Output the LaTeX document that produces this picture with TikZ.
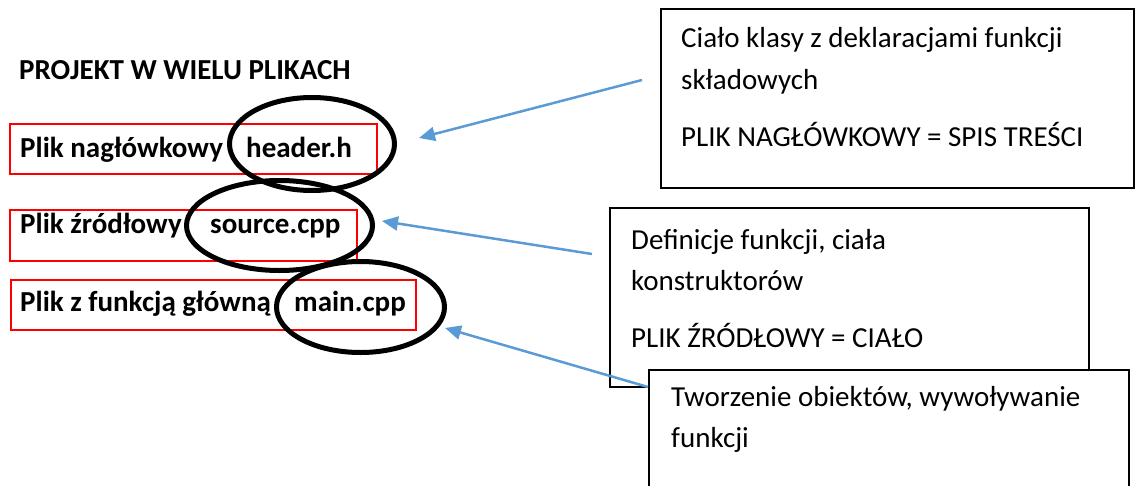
\documentclass[tikz,border=0pt]{standalone}
\usepackage{fontspec}
\setmainfont{Carlito}
\usetikzlibrary{arrows.meta,shapes.geometric}
\definecolor{arrowblue}{RGB}{91,155,213}
\tikzset{
  lbl/.style={inner sep=0pt, anchor=base west, font=\fontsize{29}{35}\selectfont\bfseries},
  rtxt/.style={inner sep=0pt, anchor=base west, font=\fontsize{29}{35}\selectfont},
  redbox/.style={draw=red, line width=2pt, rectangle, anchor=north west, inner sep=0pt},
  notebox/.style={draw=black, line width=2pt, fill=white, rectangle, anchor=north west, inner sep=0pt},
  ring/.style={draw=black, line width=5pt, ellipse, inner sep=0pt},
  pointer/.style={draw=arrowblue, line width=2.5pt, -{Triangle[length=16pt,width=14pt]}}
}
\begin{document}
\begin{tikzpicture}[x=1pt,y=-1pt]
\useasboundingbox (0,0) rectangle (1136,485);
\clip (0,0) rectangle (1136,485);
% title
\node[lbl] (title) at (19,79) {PROJEKT W WIELU PLIKACH};
% red boxes
\node[redbox, minimum width=367pt, minimum height=50pt] (r1) at (9,123) {};
\node[redbox, minimum width=347pt, minimum height=51pt] (r2) at (9,209) {};
\node[redbox, minimum width=405pt, minimum height=50pt] (r3) at (10,279) {};
% left labels
\node[lbl] (t1) at (20,157) {Plik nagłówkowy};
\node[lbl] (f1) at (246,157) {header.h};
\node[lbl] (t2) at (20,233) {Plik źródłowy};
\node[lbl] (f2) at (210,233) {source.cpp};
\node[lbl] (t3) at (20,311) {Plik z funkcją główną};
\node[lbl] (f3) at (294,311) {main.cpp};
% ellipses
\node[ring, minimum width=165pt, minimum height=93pt] (e1) at (312,144) {};
\node[ring, minimum width=186pt, minimum height=90pt] (e2) at (279.5,225.5) {};
\node[ring, minimum width=168pt, minimum height=91pt] (e3) at (360.5,307) {};
% note boxes
\node[notebox, minimum width=473pt, minimum height=179pt] (bA) at (660,8) {};
\node[rtxt] (a1) at (681,47) {Ciało klasy z deklaracjami funkcji};
\node[rtxt] (a2) at (681,89) {składowych};
\node[rtxt] (a3) at (681,146) {PLIK NAGŁÓWKOWY = SPIS TREŚCI};
\node[notebox, minimum width=479pt, minimum height=178.5pt] (bB) at (609,207) {};
\node[rtxt] (b1) at (631,249) {Definicje funkcji, ciała};
\node[rtxt] (b2) at (631,290) {konstruktorów};
\node[rtxt] (b3) at (631,347) {PLIK ŹRÓDŁOWY = CIAŁO};
\node[notebox, minimum width=480pt, minimum height=140pt] (bC) at (648,369) {};
\node[rtxt] (c1) at (671,406) {Tworzenie obiektów, wywoływanie};
\node[rtxt] (c2) at (671,447) {funkcji};
% arrows
\coordinate (s1) at (642,80);
\coordinate (p1) at (419,138);
\coordinate (s2) at (592,254);
\coordinate (p2) at (382,221);
\coordinate (s3) at (648,387);
\coordinate (p3) at (445,328);
\draw[pointer] (s1) -- (p1);
\draw[pointer] (s2) -- (p2);
\draw[pointer] (s3) -- (p3);
\end{tikzpicture}
\end{document}
